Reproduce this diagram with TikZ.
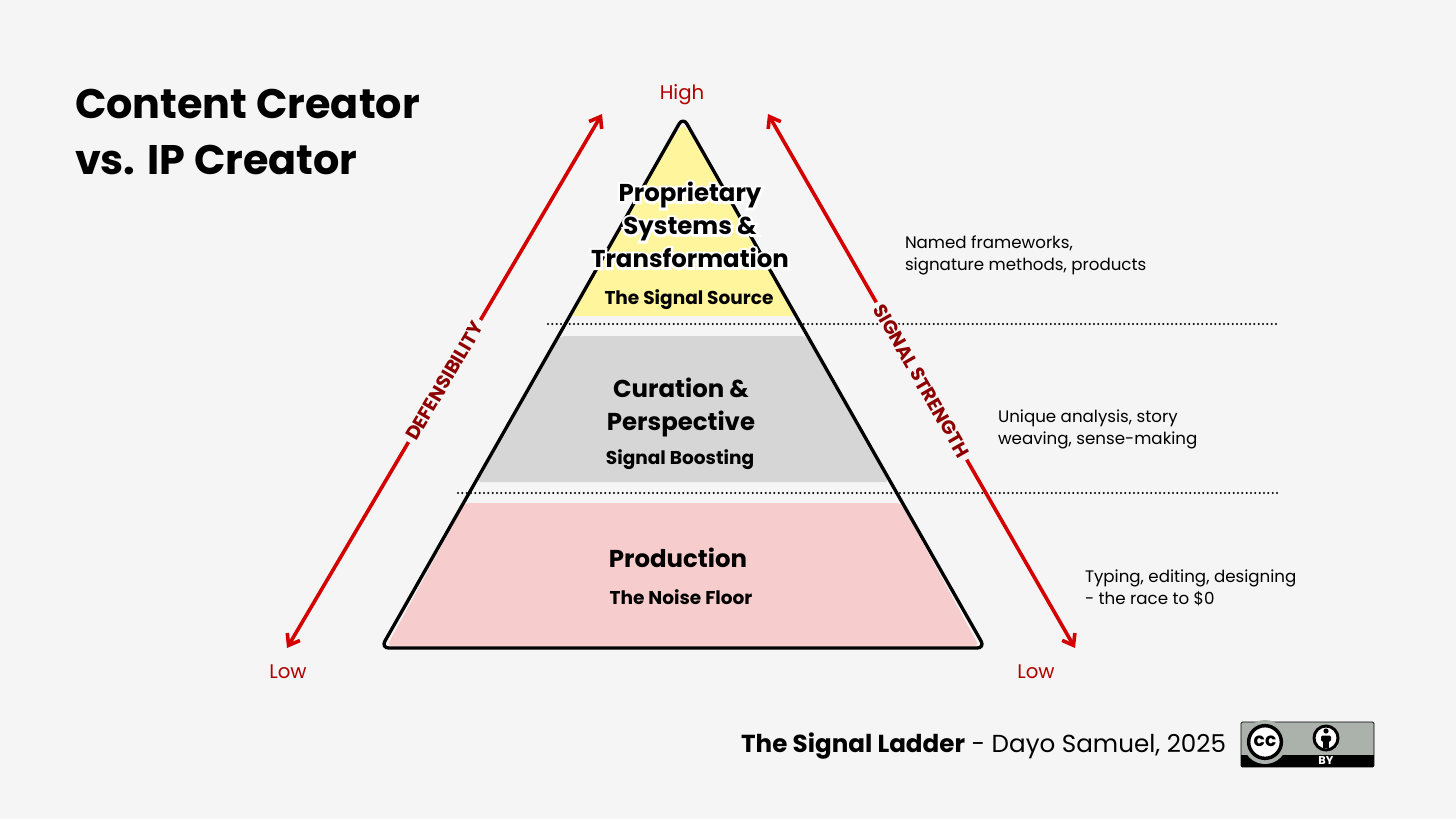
\documentclass[tikz,border=0pt]{standalone}
\usepackage{fontspec}
\setmainfont{Poppins}
\newfontfamily\halofont[FakeBold=20]{Poppins Bold}
\usetikzlibrary{arrows.meta}
\definecolor{bgc}{HTML}{F5F5F5}
\definecolor{redl}{HTML}{D40000}
\definecolor{redd}{HTML}{8E0000}
\definecolor{redt}{HTML}{B00000}
\definecolor{yelc}{HTML}{FFF59D}
\definecolor{grec}{HTML}{D6D6D6}
\definecolor{pinkc}{HTML}{F6CCCC}
\definecolor{badgec}{HTML}{AAB2AB}
\tikzset{
  every node/.style={inner sep=0pt,outer sep=0pt},
  titlestyle/.style={font=\fontsize{31}{41.5}\selectfont\bfseries,align=left,anchor=west},
  tierstyle/.style={font=\fontsize{18.3}{24.8}\selectfont\bfseries,align=center},
  halostyle/.style={font=\fontsize{18.3}{24.8}\selectfont\halofont,align=center,text=white},
  substyle/.style={font=\fontsize{13.9}{16}\selectfont\bfseries,align=center},
  notestyle/.style={font=\fontsize{12.5}{16.5}\selectfont,align=left,anchor=west},
  lvlstyle/.style={font=\fontsize{14.8}{16}\selectfont,text=redt},
  axisstyle/.style={draw=redl,line width=2.7pt,{Straight Barb[length=7.5pt,width=11pt,line width=2.7pt]}-{Straight Barb[length=7.5pt,width=11pt,line width=2.7pt]}},
  axlabel/.style={font=\fontsize{14.3}{16}\selectfont\bfseries,text=redd,fill=bgc,inner xsep=3pt,inner ysep=1pt,sloped,pos=.5},
  dotstyle/.style={draw=black,line width=1.7pt,line cap=round,dash pattern=on 0pt off 3.25pt},
}
\begin{document}
\begin{tikzpicture}[x=0.75pt,y=-0.75pt]
\useasboundingbox (0,0) rectangle (1456,819);
\fill[bgc] (0,0) rectangle (1456,819);
% bands
\fill[pinkc,rounded corners=3pt] (465,503) -- (901,503) -- (979,646) -- (387,646) -- cycle;
\fill[grec,rounded corners=3pt] (560,336) -- (806,336) -- (889,482) -- (477,482) -- cycle;
\fill[yelc,rounded corners=2pt] (571,316) -- (674,136) .. controls (683,124) .. (692,136) -- (795,316) -- cycle;
% dotted rules
\coordinate (d1a) at (548,324); \coordinate (d1b) at (1278,324);
\coordinate (d2a) at (458,493); \coordinate (d2b) at (1278,493);
\draw[dotstyle] (d1a) -- (d1b);
\draw[dotstyle] (d2a) -- (d2b);
% pyramid outline
\draw[black,line width=2.5pt,line join=round,rounded corners=6pt] (683,117) -- (985,648) -- (381,648) -- cycle;
% axes
\coordinate (la) at (287,648); \coordinate (lb) at (602,114);
\coordinate (ra) at (768,114); \coordinate (rb) at (1075,648);
\draw[axisstyle] (la) -- node[axlabel] (deflabel) {DEFENSIBILITY} (lb);
\draw[axisstyle] (ra) -- node[axlabel] (siglabel) {SIGNAL STRENGTH} (rb);
% title
\node[titlestyle] (titlenode) at (75,132) {Content Creator\\vs. IP Creator};
% tier text
\node[halostyle] (t1halo) at (690,225) {Proprietary\\Systems \&\\Transformation};
\node[tierstyle] (t1) at (690,225) {Proprietary\\Systems \&\\Transformation};
\node[substyle] (s1) at (689,300) {The Signal Source};
\node[tierstyle] (t2) at (681,407) {Curation \&\\Perspective};
\node[substyle] (s2) at (680,460) {Signal Boosting};
\node[tierstyle] (t3) at (678,558) {Production};
\node[substyle] (s3) at (681,597) {The Noise Floor};
% notes
\node[notestyle] (n1) at (905,255) {Named frameworks,\\signature methods, products};
\node[notestyle] (n2) at (998,429) {Unique analysis, story\\weaving, sense-making};
\node[notestyle] (n3) at (1085,588) {Typing, editing, designing\\- the race to \$0};
% levels
\node[lvlstyle] (high) at (682,95) {High};
\node[lvlstyle] (lowl) at (288,672) {Low};
\node[lvlstyle] (lowr) at (1036,672) {Low};
% credit
\node[anchor=east,font=\fontsize{18.45}{22}\selectfont] (credit) at (1226,746) {\textbf{The Signal Ladder} - Dayo Samuel, 2025};
% CC badge
\fill[badgec,draw=black,line width=.5pt,rounded corners=1pt] (1241,722) rectangle (1374,767);
\fill[black] (1241,755) rectangle (1374,767);
\node[circle,fill=badgec,minimum size=33pt] (ccout) at (1265,742) {};
\node[circle,fill=white,draw=black,line width=2.6pt,minimum size=24.5pt] (cccirc) at (1265,742) {};
\node[font=\fontsize{14}{14}\selectfont\bfseries] (cctext) at (1265,741) {cc};
\node[circle,fill=white,draw=black,line width=2.2pt,minimum size=18pt] (bycirc) at (1326,738) {};
\fill[black] (1326,731) circle (2.6);
\fill[black,rounded corners=1pt] (1321,735.5) rectangle (1331,741.5);
\fill[black] (1323,741) rectangle (1329,748);
\node[text=white,font=\fontsize{8.5}{8}\selectfont\bfseries] (bytext) at (1326,761) {BY};
\end{tikzpicture}
\end{document}
